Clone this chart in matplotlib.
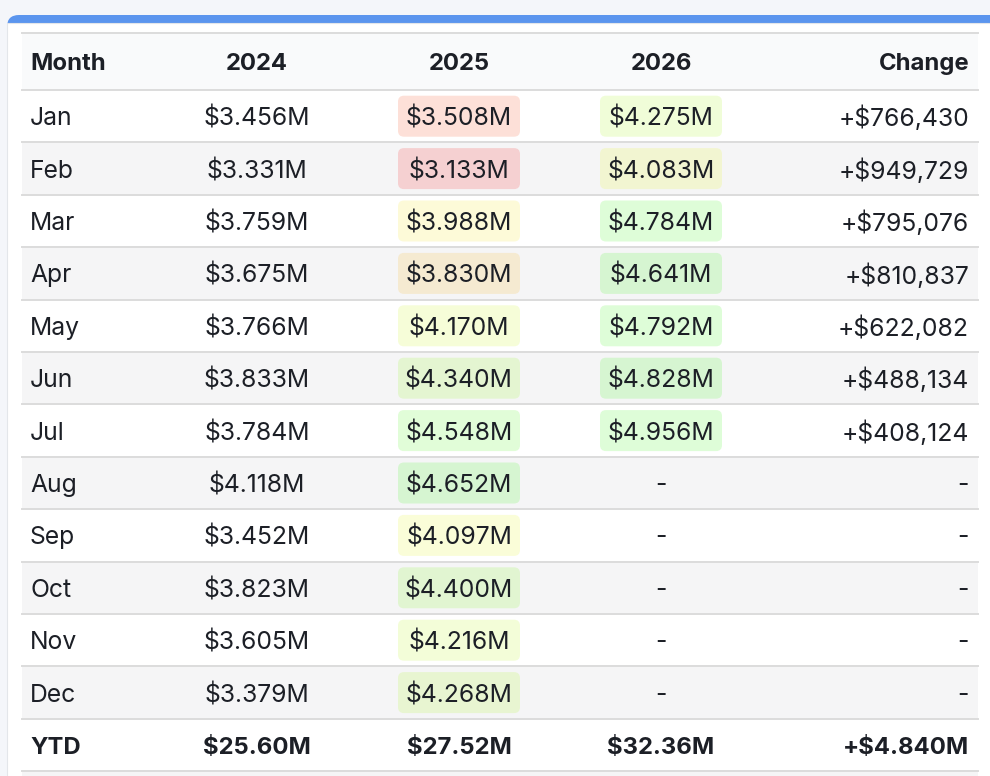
# Tabla mensual de ingresos 2024-2026 con celdas coloreadas por valor
import matplotlib.pyplot as plt
from matplotlib.colors import Normalize, hsv_to_rgb
from matplotlib.patches import FancyBboxPatch, Rectangle

plt.rcParams.update({"font.family": ["Inter", "DejaVu Sans"], "font.size": 17.8})

months = ["Jan", "Feb", "Mar", "Apr", "May", "Jun", "Jul", "Aug", "Sep", "Oct", "Nov", "Dec"]
rev_2024 = [3.456, 3.331, 3.759, 3.675, 3.766, 3.833, 3.784, 4.118, 3.452, 3.823, 3.605, 3.379]
rev_2025 = [3.508, 3.133, 3.988, 3.830, 4.170, 4.340, 4.548, 4.652, 4.097, 4.400, 4.216, 4.268]
rev_2026 = [4.275, 4.083, 4.784, 4.641, 4.792, 4.828, 4.956]
change = [766430, 949729, 795076, 810837, 622082, 488134, 408124]
headers = ["Month", "2024", "2025", "2026", "Change"]
ytd = ["YTD", "$25.60M", "$27.52M", "$32.36M", "+$4.840M"]

# layout en pixeles
W, H = 990, 776
TX0, TX1 = 22, 978
HEAD_TOP, HEAD_BOT = 33, 90
ROW_H = 52.4
COL_X = [30, 257, 459, 661, 969]
PILL_W, PILL_H = 122, 41
BOLD_SIZE = 17.2
TXT = "#1c1f26"
LINE = "#dcdcdc"
ROW_ALT = "#f5f5f6"

# escala rojo -> verde en tono (hsv), translucida sobre el fondo de la fila
norm = Normalize(3.362, 4.71, clip=True)


def heat(v):
    hue = min(120 * norm(v), 110) / 360
    r, g, b = hsv_to_rgb((hue, 0.75, 0.97))
    return (r, g, b, 0.2)


fig = plt.figure(figsize=(W / 100, H / 100), dpi=100)
fig.patch.set_facecolor("#f4f6fa")
ax = fig.add_axes([0, 0, 1, 1])
ax.set_xlim(0, W)
ax.set_ylim(H, 0)
ax.axis("off")

# tarjeta con borde superior azul
ax.add_patch(FancyBboxPatch((7, 15), 1000, 800, boxstyle="round,pad=0,rounding_size=12",
                            fc="#5b95ee", ec="none"))
ax.add_patch(Rectangle((7, 23), 1000, 800, fc="white", ec="#e3e6ea", lw=0.8))

# cabecera
ax.add_patch(Rectangle((TX0, HEAD_TOP), TX1 - TX0, HEAD_BOT - HEAD_TOP, fc="#f9fafb", ec="none"))
ax.plot([TX0, TX1], [HEAD_TOP, HEAD_TOP], color=LINE, lw=1.4)
hy = (HEAD_TOP + HEAD_BOT) / 2
for i, h in enumerate(headers):
    ha = "left" if i == 0 else ("right" if i == 4 else "center")
    ax.text(COL_X[i], hy, h, ha=ha, va="center_baseline", fontweight="bold",
            fontsize=BOLD_SIZE, color=TXT)


def money(v):
    return f"${v:.3f}M"


def pill(x, y, v):
    ax.add_patch(FancyBboxPatch((x - PILL_W / 2, y - PILL_H / 2), PILL_W, PILL_H,
                                boxstyle="round,pad=0,rounding_size=6",
                                fc=heat(v), ec="none"))


rows = len(months) + 1
for r in range(rows):
    top = HEAD_BOT + r * ROW_H
    cy = top + ROW_H / 2
    if r % 2 == 1:
        ax.add_patch(Rectangle((TX0, top), TX1 - TX0, ROW_H, fc=ROW_ALT, ec="none"))
    ax.plot([TX0, TX1], [top, top], color=LINE, lw=1.4)
    if r < len(months):
        cells = [months[r], money(rev_2024[r]), money(rev_2025[r])]
        pill(COL_X[2], cy, rev_2025[r])
        if r < len(rev_2026):
            pill(COL_X[3], cy, rev_2026[r])
            cells += [money(rev_2026[r]), f"+${change[r]:,}"]
        else:
            cells += ["-", "-"]
        weight, size = "normal", 17.8
    else:
        cells = ytd
        weight, size = "bold", BOLD_SIZE
    for i, t in enumerate(cells):
        ha = "left" if i == 0 else ("right" if i == 4 else "center")
        ax.text(COL_X[i], cy, t, ha=ha, va="center_baseline", fontweight=weight,
                fontsize=size, color=TXT)

bottom = HEAD_BOT + rows * ROW_H
ax.plot([TX0, TX1], [bottom, bottom], color=LINE, lw=1.4)
ax.add_patch(Rectangle((TX0, bottom + 1), TX1 - TX0, 20, fc=ROW_ALT, ec="none"))

fig.savefig("out.png", dpi=100)
